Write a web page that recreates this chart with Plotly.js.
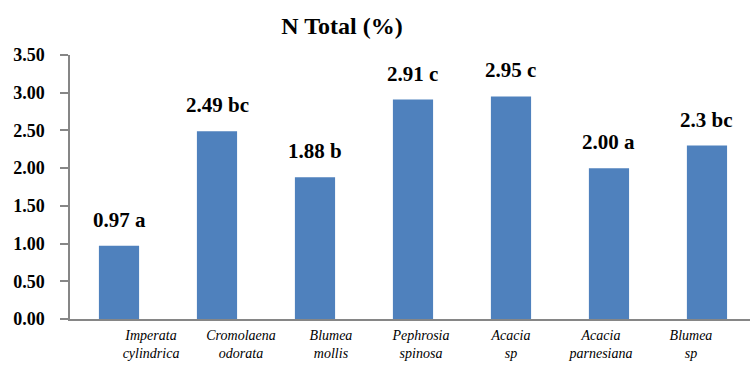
<!DOCTYPE html>
<html>
<head>
<meta charset="utf-8">
<script src="https://cdn.plot.ly/plotly-3.0.1.min.js"></script>
<style>
#chart svg text { font-family: "Liberation Serif", "Times New Roman", serif !important; }
</style>
</head>
<body style="margin:0">
<div id="chart" style="width:750px;height:367px"></div>
<script>
var categories = ["Imperata cylindrica", "Cromolaena odorata", "Blumea mollis", "Pephrosia spinosa", "Acacia sp", "Acacia parnesiana", "Blumea sp"];
var tickLabels = ["Imperata<br>cylindrica", "Cromolaena<br>odorata", "Blumea<br>mollis", "Pephrosia<br>spinosa", "Acacia<br>sp", "Acacia<br>parnesiana", "Blumea<br>sp"];
var values = [0.97, 2.49, 1.88, 2.91, 2.95, 2.00, 2.3];
var valueText = ["0.97", "2.49", "1.88", "2.91", "2.95", "2.00", "2.3"];
var letters = ["a", "bc", "b", "c", "c", "a", "bc"];

var FAM = "Liberation Serif";

var bars = {
  type: "bar",
  x: categories,
  y: values,
  marker: {color: "#4F81BD"},
  width: 0.41,
  hoverinfo: "skip"
};
var labelAxisTrace = {
  type: "scatter",
  mode: "markers",
  x: categories,
  y: values,
  xaxis: "x2",
  marker: {opacity: 0},
  hoverinfo: "skip",
  showlegend: false
};

var annotations = categories.map(function (c, i) {
  return {
    x: c, y: values[i], xref: "x", yref: "y",
    text: "<b>" + valueText[i] + " " + letters[i] + "</b>",
    showarrow: false, yanchor: "bottom", yshift: 12,
    font: {family: FAM, size: 21, color: "#000000"}
  };
});

var layout = {
  width: 750, height: 367,
  margin: {l: 70, r: 0, t: 55, b: 48},
  paper_bgcolor: "#ffffff", plot_bgcolor: "#ffffff",
  showlegend: false,
  font: {family: FAM, size: 14, color: "#000000"},
  title: {text: "<b>N Total (%)</b>", x: 0.456, xanchor: "center", y: 0.93, yanchor: "middle",
          font: {family: FAM, size: 24, color: "#000000"}},
  bargap: 0.59,
  xaxis: {
    type: "category",
    categoryorder: "array", categoryarray: categories,
    range: [-0.5, 6.439],
    showticklabels: false, ticks: "",
    showline: true, linecolor: "#868686", linewidth: 2,
    showgrid: false, zeroline: false, fixedrange: true
  },
  xaxis2: {
    type: "category",
    categoryorder: "array", categoryarray: categories,
    overlaying: "x", anchor: "y", side: "bottom",
    range: [-0.9, 6.656],
    tickmode: "array", tickvals: categories, ticktext: tickLabels,
    ticks: "", showline: false, showgrid: false, zeroline: false,
    tickfont: {family: FAM, size: 14, color: "#000000", style: "italic"},
    ticklabelstandoff: 6, fixedrange: true
  },
  yaxis: {
    range: [0, 3.5], dtick: 0.5, tickformat: ".2f",
    ticks: "outside", ticklen: 8, tickcolor: "#868686", tickwidth: 1.5,
    showline: true, linecolor: "#868686", linewidth: 1.5,
    showgrid: false, zeroline: false,
    tickfont: {family: FAM, size: 18, color: "#000000", weight: 700},
    ticklabelstandoff: 12, fixedrange: true
  },
  annotations: annotations
};

Plotly.newPlot("chart", [bars, labelAxisTrace], layout, {displayModeBar: false});
</script>
</body>
</html>
